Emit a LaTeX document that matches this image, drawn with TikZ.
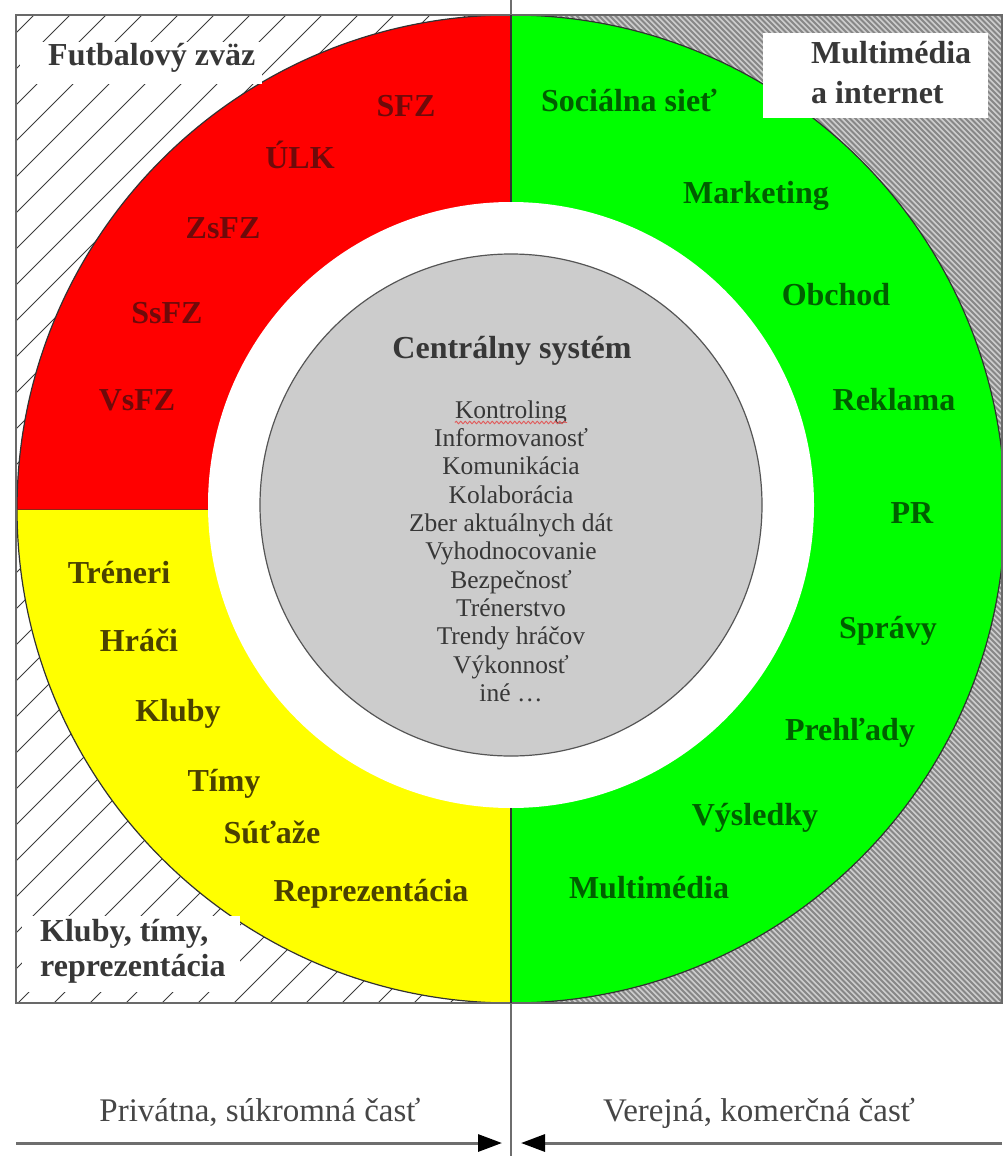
\documentclass[tikz,border=0pt]{standalone}
\usepackage{fontspec}
\setmainfont{Liberation Serif}
\usetikzlibrary{arrows.meta,decorations.pathmorphing}
\definecolor{qred}{RGB}{255,0,0}
\definecolor{qyellow}{RGB}{255,255,0}
\definecolor{qgreen}{RGB}{0,255,0}
\definecolor{coregray}{RGB}{204,204,204}
\definecolor{redtxt}{RGB}{110,10,10}
\definecolor{yeltxt}{RGB}{75,65,0}
\definecolor{grntxt}{RGB}{0,95,0}
\definecolor{darktxt}{RGB}{55,55,55}
\definecolor{hatchbg}{RGB}{205,205,205}
\definecolor{hatchfg}{RGB}{135,135,135}
\definecolor{framecol}{RGB}{105,105,105}
\begin{document}
\begin{tikzpicture}[x=1pt,y=-1pt,
  lab/.style={font=\fontsize{32}{36}\selectfont\bfseries, text height=0.66em, text depth=0pt, inner sep=0pt, anchor=center},
  redlab/.style={lab, text=redtxt},
  yellab/.style={lab, text=yeltxt},
  grnlab/.style={lab, text=grntxt},
  reglab/.style={lab, text=darktxt, anchor=west},
  titlelab/.style={lab, text=darktxt},
  itemlab/.style={font=\fontsize{25.5}{28}\selectfont, text=darktxt, text height=0.66em, text depth=0pt, inner sep=0pt, anchor=center},
  sidelab/.style={font=\fontsize{33}{36}\selectfont, text={rgb,255:red,70;green,70;blue,70}, text height=0.66em, text depth=0pt, inner sep=0pt, anchor=center},
  hatchL/.style={draw={rgb,255:red,60;green,60;blue,60}, line width=1pt},
  hatchR/.style={draw=hatchfg, line width=1.8pt},
  outline/.style={draw={rgb,255:red,50;green,50;blue,50}, line width=1.2pt},
  divider/.style={draw={rgb,255:red,50;green,50;blue,50}, line width=1.5pt},
  axisline/.style={draw={rgb,255:red,110;green,110;blue,110}, line width=1.8pt},
  boxline/.style={draw=framecol, line width=2pt},
  sidearrow/.style={draw={rgb,255:red,110;green,110;blue,110}, line width=3pt, -{Triangle[length=24pt,width=17pt,color=black]}},
  spell/.style={draw={rgb,255:red,225;green,90;blue,90}, line width=0.9pt, decorate, decoration={snake, amplitude=1.3pt, segment length=4.5pt}}
]
\useasboundingbox (0,0) rectangle (1002,1156);
\coordinate (C) at (511,509);
\coordinate (Cin) at (511,505);

% left hatching
\begin{scope}
  \clip (16,15) rectangle (511,1003);
  \foreach \a in {-990,-954,...,530} \draw[hatchL] (\a,1003) -- ++(988,-988);
\end{scope}
% right hatching
\begin{scope}
  \clip (511,15) rectangle (1002,1003);
  \fill[hatchbg] (511,15) rectangle (1002,1003);
  \foreach \a in {-480,-474.5,...,1010} \draw[hatchR] (\a,15) -- ++(988,988);
\end{scope}

% quadrants
\begin{scope}
  \clip (16,15) rectangle (511,509);
  \fill[qred] (C) circle[radius=494pt];
\end{scope}
\begin{scope}
  \clip (16,509) rectangle (511,1003);
  \fill[qyellow] (C) circle[radius=494pt];
\end{scope}
\begin{scope}
  \clip (511,15) rectangle (1002,1003);
  \fill[qgreen] (C) circle[radius=494pt];
\end{scope}
\draw[outline] (C) circle[radius=494pt];
\draw[draw={rgb,255:red,140;green,40;blue,20}, line width=0.8pt] (17,509) -- (208,509);

% white ring and core
\fill[white] (Cin) circle[radius=303pt];
\filldraw[fill=coregray, draw={rgb,255:red,85;green,85;blue,85}, line width=1.2pt] (Cin) circle[radius=251pt];

% frame
\draw[boxline] (16,15) rectangle (1002,1003);

% vertical axis and dividers
\coordinate (axTop) at (511,0);
\coordinate (boxTop) at (511,15);
\coordinate (ringTop) at (511,202);
\coordinate (ringBot) at (511,808);
\coordinate (boxBot) at (511,1003);
\coordinate (axBot) at (511,1156);
\draw[axisline] (axTop) -- (boxTop);
\draw[axisline] (boxBot) -- (axBot);
\draw[divider] (boxTop) -- (ringTop);
\draw[divider] (ringBot) -- (boxBot);

% region labels
\fill[white] (20,42) rectangle (262,84);
\node[reglab] (fz) at (48,62) {Futbalový zväz};
\fill[white] (763,33) rectangle (988,118);
\node[reglab] (mm1) at (811,60) {Multimédia};
\node[reglab] (mm2) at (811,100) {a internet};
\fill[white] (22,916) rectangle (240,992);
\node[reglab] (kt1) at (40,938) {Kluby, tímy,};
\node[reglab] (kt2) at (40,973) {reprezentácia};

% red labels
\node[redlab] (sfz) at (406,113) {SFZ};
\node[redlab] (ulk) at (300,165) {ÚLK};
\node[redlab] (zsfz) at (223,235) {ZsFZ};
\node[redlab] (ssfz) at (167,320) {SsFZ};
\node[redlab] (vsfz) at (137,407) {VsFZ};

% yellow labels
\node[yellab] (tren) at (119,580) {Tréneri};
\node[yellab] (hrac) at (139,648) {Hráči};
\node[yellab] (klub) at (178,718) {Kluby};
\node[yellab] (timy) at (224,788) {Tímy};
\node[yellab] (sutaz) at (272,840) {Súťaže};
\node[yellab] (repr) at (371,898) {Reprezentácia};

% green labels
\node[grnlab] (soc) at (629,108) {Sociálna sieť};
\node[grnlab] (mark) at (756,200) {Marketing};
\node[grnlab] (obch) at (836,302) {Obchod};
\node[grnlab] (rekl) at (894,407) {Reklama};
\node[grnlab] (pr) at (912,520) {PR};
\node[grnlab] (sprav) at (888,635) {Správy};
\node[grnlab] (preh) at (850,737) {Prehľady};
\node[grnlab] (vysl) at (755,822) {Výsledky};
\node[grnlab] (multi) at (649,895) {Multimédia};

% central system
\node[titlelab] (cs) at (512,355) {Centrálny systém};
\foreach \t [count=\i from 0] in {Kontroling,Informovanosť,Komunikácia,Kolaborácia,Zber aktuálnych dát,Vyhodnocovanie,Bezpečnosť,Trénerstvo,Trendy hráčov,Výkonnosť,{iné \ldots}}
  \node[itemlab] (c\i) at (511,{415+28.3*\i}) {\t};
\draw[spell] ([yshift=-4pt]c0.south west) -- ([yshift=-4pt]c0.south east);

% bottom labels and arrows
\node[sidelab] (priv) at (260,1118) {Privátna, súkromná časť};
\node[sidelab] (verej) at (759,1118) {Verejná, komerčná časť};
\coordinate (aLs) at (16,1143);
\coordinate (aLe) at (502,1143);
\coordinate (aRs) at (1002,1143);
\coordinate (aRe) at (521,1143);
\draw[sidearrow] (aLs) -- (aLe);
\draw[sidearrow] (aRs) -- (aRe);
\end{tikzpicture}
\end{document}
